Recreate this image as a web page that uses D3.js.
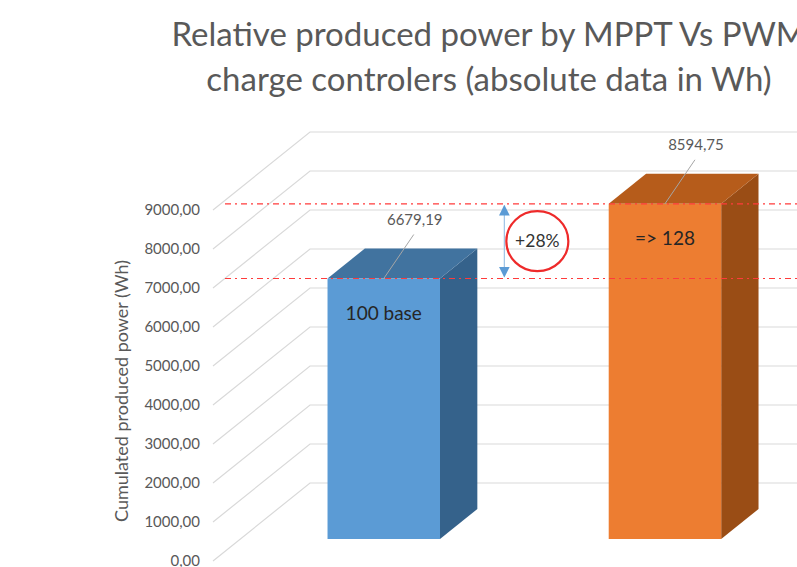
<!DOCTYPE html>
<html>
<head>
<meta charset="UTF-8" />
<title>MPPT vs PWM</title>
<script src="https://d3js.org/d3.v7.min.js"></script>
<style>
  body { margin: 0; background: #ffffff; }
  svg { display: block; font-family: "Lato", "Open Sans", sans-serif; }
</style>
</head>
<body>
<svg id="chart"></svg>
<script>
  // chart data
  const categories = ["PWM", "MPPT"];
  const values = [6679.19, 8594.75];
  const barTexts = ["100 base", "=> 128"];
  const yTicks = [0, 1000, 2000, 3000, 4000, 5000, 6000, 7000, 8000, 9000];
  const titleLines = ["Relative produced power by MPPT Vs PWM", "charge controlers (absolute data in Wh)"];
  const yTitle = "Cumulated produced power (Wh)";
  const gainText = "+28%";

  const width = 797, height = 567;
  const svg = d3.select("#chart").attr("width", width).attr("height", height);

  // oblique 3D: z=0 front edge of floor, z=1 back wall
  const depthX = 97, depthY = 78;
  const zFront = 0.282, zBack = 0.667;

  const y = d3.scaleLinear().domain([0, 9000]).range([561, 210]);
  const x = d3.scaleBand().domain(categories).range([213, 781])
    .paddingInner(0.6).paddingOuter(0.31);

  const P = (xf, v, z) => [xf + z * depthX, y(v) - z * depthY];

  const faceColors = {
    PWM:  { front: "#5B9BD5", top: "#41739F", side: "#35628B" },
    MPPT: { front: "#ED7D31", top: "#B65C1B", side: "#9A4D15" }
  };

  const fmt = d3.formatLocale({ decimal: ",", thousands: "", grouping: [3], currency: ["", ""] }).format(".2f");

  // gridlines: diagonal along left wall, then along back wall
  svg.append("g").selectAll("path")
    .data(yTicks).enter().append("path")
    .attr("d", t => {
      const a = P(x.range()[0], t, 0), b = P(x.range()[0], t, 1);
      return `M${a}L${b}L${width + 10},${b[1]}`;
    })
    .attr("fill", "none")
    .attr("stroke", "#d9d9d9")
    .attr("stroke-width", 1.2);

  // tick labels
  svg.append("g").selectAll("text")
    .data(yTicks).enter().append("text")
    .attr("x", 200)
    .attr("y", t => y(t) + 5)
    .attr("text-anchor", "end")
    .attr("font-size", 15)
    .attr("fill", "#595959")
    .text(t => fmt(t));

  // axis title
  svg.append("text")
    .attr("transform", "translate(128,391) rotate(-90)")
    .attr("text-anchor", "middle")
    .attr("font-size", 18)
    .attr("fill", "#595959")
    .text(yTitle);

  // bars
  const bars = svg.append("g").selectAll("g")
    .data(categories.map((c, i) => ({ c, v: values[i], t: barTexts[i] })))
    .enter().append("g");

  const poly = pts => "M" + pts.join("L") + "Z";

  bars.append("path")
    .attr("fill", d => faceColors[d.c].side)
    .attr("d", d => {
      const x1 = x(d.c) + x.bandwidth();
      return poly([P(x1, d.v, zFront), P(x1, d.v, zBack), P(x1, 0, zBack), P(x1, 0, zFront)]);
    });
  bars.append("path")
    .attr("fill", d => faceColors[d.c].top)
    .attr("d", d => {
      const x0 = x(d.c), x1 = x0 + x.bandwidth();
      return poly([P(x0, d.v, zFront), P(x1, d.v, zFront), P(x1, d.v, zBack), P(x0, d.v, zBack)]);
    });
  bars.append("path")
    .attr("fill", d => faceColors[d.c].front)
    .attr("d", d => {
      const x0 = x(d.c), x1 = x0 + x.bandwidth();
      return poly([P(x0, d.v, zFront), P(x1, d.v, zFront), P(x1, 0, zFront), P(x0, 0, zFront)]);
    });

  // value labels with leader lines
  const anchor = d => P(x(d.c) + x.bandwidth() / 2, d.v, zFront);
  bars.append("line")
    .attr("x1", d => anchor(d)[0]).attr("y1", d => anchor(d)[1])
    .attr("x2", d => anchor(d)[0] + 30).attr("y2", d => anchor(d)[1] - 44)
    .attr("stroke", "#a6a6a6").attr("stroke-width", 1);
  bars.append("text")
    .attr("x", d => anchor(d)[0] + 31)
    .attr("y", d => anchor(d)[1] - 54)
    .attr("text-anchor", "middle")
    .attr("font-size", 15)
    .attr("fill", "#595959")
    .text(d => fmt(d.v));
  bars.append("text")
    .attr("x", d => anchor(d)[0])
    .attr("y", d => anchor(d)[1] + 41)
    .attr("text-anchor", "middle")
    .attr("font-size", 19)
    .attr("fill", "#262626")
    .text(d => d.t);

  // red dash-dot reference lines at bar tops
  svg.append("g").selectAll("line")
    .data(values).enter().append("line")
    .attr("x1", 225).attr("x2", width)
    .attr("y1", v => y(v) - zFront * depthY)
    .attr("y2", v => y(v) - zFront * depthY)
    .attr("stroke", "#ff3b3b")
    .attr("stroke-width", 1.2)
    .attr("stroke-dasharray", "6,4,2,4");

  // double arrow between levels
  const defs = svg.append("defs");
  defs.append("marker").attr("id", "arr")
    .attr("viewBox", "0 0 10 10").attr("refX", 9).attr("refY", 5)
    .attr("markerWidth", 9).attr("markerHeight", 9)
    .attr("orient", "auto-start-reverse")
    .append("path").attr("d", "M0,0L10,5L0,10Z").attr("fill", "#5B9BD5");

  const yLow = y(values[0]) - zFront * depthY, yHigh = y(values[1]) - zFront * depthY;
  const arrowX = P(x(categories[0]) + x.bandwidth(), 0, zBack)[0] + 27;
  svg.append("line")
    .attr("x1", arrowX).attr("x2", arrowX)
    .attr("y1", yHigh + 2).attr("y2", yLow - 2)
    .attr("stroke", "#9dc3e6").attr("stroke-width", 1.2)
    .attr("marker-start", "url(#arr)").attr("marker-end", "url(#arr)");

  const cx = arrowX + 33, cy = (yLow + yHigh) / 2;
  svg.append("ellipse")
    .attr("cx", cx).attr("cy", cy).attr("rx", 31).attr("ry", 30)
    .attr("fill", "none").attr("stroke", "#ee2a2a").attr("stroke-width", 2.2);
  svg.append("text")
    .attr("x", cx).attr("y", cy + 6)
    .attr("text-anchor", "middle")
    .attr("font-size", 17.5)
    .attr("fill", "#333333")
    .text(gainText);

  // title
  svg.append("g").selectAll("text")
    .data(titleLines).enter().append("text")
    .attr("x", 489)
    .attr("y", (d, i) => 46 + i * 45)
    .attr("text-anchor", "middle")
    .attr("font-size", 33)
    .attr("fill", "#595959")
    .text(d => d);
</script>
</body>
</html>
